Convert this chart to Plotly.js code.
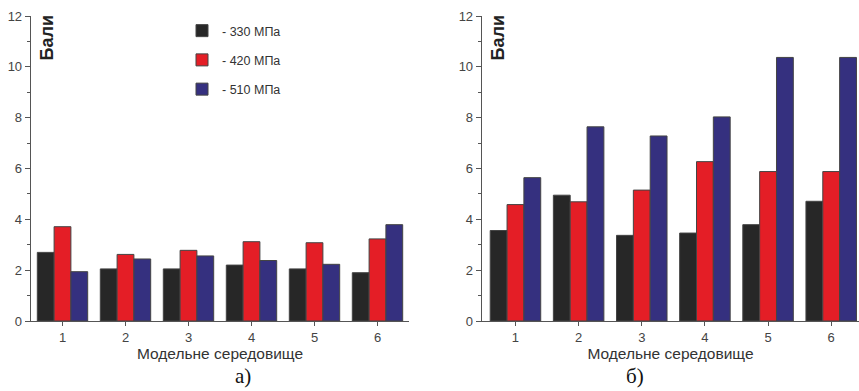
<!DOCTYPE html>
<html><head><meta charset="utf-8">
<script src="https://cdn.plot.ly/plotly-3.0.1.min.js"></script>
<style>body{margin:0;background:#fff}#c{width:859px;height:391px}</style>
</head><body><div id="c"></div>
<script>
const categories = [1, 2, 3, 4, 5, 6];
const seriesNames = ['- 330 МПа', '- 420 МПа', '- 510 МПа'];
const colors = ['#272727', '#e41e26', '#35307f'];
// panel а)
const a330 = [2.70, 2.05, 2.05, 2.20, 2.05, 1.90];
const a420 = [3.71, 2.62, 2.78, 3.12, 3.08, 3.23];
const a510 = [1.94, 2.44, 2.56, 2.38, 2.23, 3.79];
// panel б)
const b330 = [3.56, 4.95, 3.37, 3.46, 3.79, 4.71];
const b420 = [4.58, 4.69, 5.15, 6.27, 5.88, 5.88];
const b510 = [5.64, 7.64, 7.28, 8.03, 10.37, 10.37];
const yTicks = [0, 2, 4, 6, 8, 10, 12];

const traces = [];
[a330, a420, a510].forEach((v, i) => traces.push({
  type: 'bar', x: categories, y: v, name: seriesNames[i], xaxis: 'x', yaxis: 'y',
  marker: {color: colors[i], line: {color: '#444', width: 1}},
  legendgroup: 'g' + i, showlegend: true
}));
[b330, b420, b510].forEach((v, i) => traces.push({
  type: 'bar', x: categories, y: v, name: seriesNames[i], xaxis: 'x2', yaxis: 'y2',
  marker: {color: colors[i], line: {color: '#444', width: 1}},
  legendgroup: 'g' + i, showlegend: false
}));

const W = 828;
const axCommon = {
  showline: true, linecolor: '#555', linewidth: 1.3, ticks: 'outside', ticklen: 4,
  tickcolor: '#555', tickfont: {family: 'Liberation Sans, Arial', size: 13, color: '#444'},
  showgrid: false, zeroline: false, fixedrange: true
};
const yax = Object.assign({}, axCommon, {range: [0, 12], tickvals: yTicks, ticklen: 5,
  minor: {ticks: 'outside', dtick: 1, tick0: 0, ticklen: 3, tickcolor: '#555', showgrid: false}});
const xTitleFont = {family: 'Liberation Sans, Arial', size: 15.5, color: '#333'};
const yTitleFont = {family: 'Liberation Sans, Arial', size: 18, color: '#222'};

const layout = {
  width: 859, height: 391,
  margin: {l: 31, r: 0, t: 16, b: 70},
  paper_bgcolor: '#fff', plot_bgcolor: '#fff',
  barmode: 'group', bargap: 0.2, bargroupgap: 0,
  xaxis: Object.assign({}, axCommon, {domain: [0, (409 - 31) / W], range: [0.5, 6.5], tickvals: categories,
    title: {text: 'Модельне середовище', font: xTitleFont, standoff: 1}, anchor: 'y'}),
  yaxis: Object.assign({}, yax, {anchor: 'x'}),
  xaxis2: Object.assign({}, axCommon, {domain: [(482 - 31) / W, 1], range: [0.47, 6.44], tickvals: categories,
    title: {text: 'Модельне середовище', font: xTitleFont, standoff: 1}, anchor: 'y2'}),
  yaxis2: Object.assign({}, yax, {anchor: 'x2'}),
  legend: {x: (182 - 31) / W, xanchor: 'left', y: 1.0, yanchor: 'top', xref: 'paper',
    font: {family: 'Liberation Sans, Arial', size: 12.5, color: '#333'},
    tracegroupgap: 10, bgcolor: 'rgba(0,0,0,0)'},
  showlegend: true,
  annotations: [
    {text: '<b>Бали</b>', xref: 'x domain', yref: 'y domain', x: 0, y: 1, xanchor: 'left', yanchor: 'top',
     xshift: 3, yshift: 2, textangle: -90, showarrow: false, font: yTitleFont},
    {text: '<b>Бали</b>', xref: 'x2 domain', yref: 'y2 domain', x: 0, y: 1, xanchor: 'left', yanchor: 'top',
     xshift: 3, yshift: 2, textangle: -90, showarrow: false, font: yTitleFont},
    {text: 'а)', xref: 'x domain', yref: 'paper', x: 0.56, y: -0.135, yanchor: 'top', showarrow: false,
     font: {family: 'Liberation Serif, Times New Roman', size: 21, color: '#111'}},
    {text: 'б)', xref: 'x2 domain', yref: 'paper', x: 0.405, y: -0.135, yanchor: 'top', showarrow: false,
     font: {family: 'Liberation Serif, Times New Roman', size: 21, color: '#111'}}
  ]
};
Plotly.newPlot('c', traces, layout, {displayModeBar: false, staticPlot: true});
</script></body></html>
